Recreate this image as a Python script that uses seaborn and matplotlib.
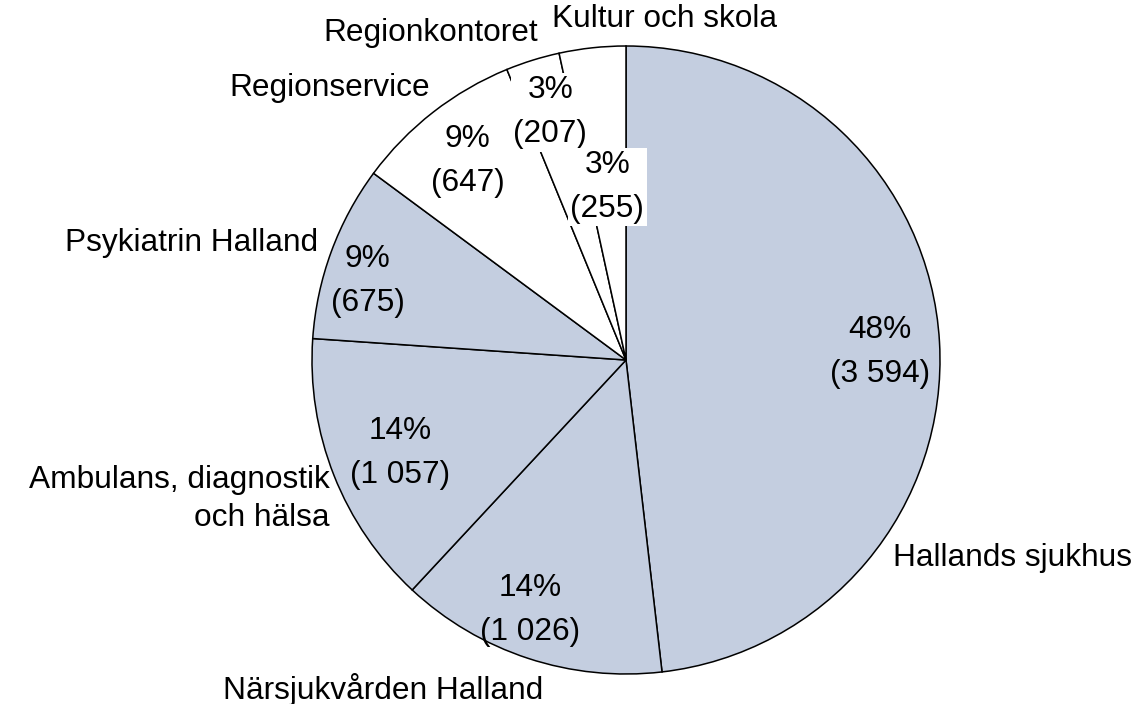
import numpy as np
import matplotlib
matplotlib.use("Agg")
import matplotlib.pyplot as plt
import seaborn as sns

# ---- data ----
categories = ["Hallands sjukhus", "Närsjukvården Halland", "Ambulans, diagnostik\noch hälsa",
              "Psykiatrin Halland", "Regionservice", "Regionkontoret", "Kultur och skola"]
values = [3594, 1026, 1057, 675, 647, 207, 255]

# ---- style ----
BLUE = "#C4CEE0"
WHITE = "#FFFFFF"
colors = [BLUE, BLUE, BLUE, BLUE, WHITE, WHITE, WHITE]
# inner label placement: radial fraction and angular offset (deg) from wedge mid-angle
lab_r = [0.81, 0.853, 0.777, 0.86, 0.81, 0.825, 0.554]
lab_off = [-1.5, -2.8, 0.8, 3.2, 0.6, -0.3, 0.0]
lab_box = [False, False, False, False, True, True, True]
# outer category label anchors (in radius units) and alignment
out_pos = [(0.85, -0.63), (-0.774, -1.05), (-0.943, -0.443), (-0.98, 0.373),
           (-0.624, 0.866), (-0.28, 1.04), (-0.236, 1.085)]
out_ha = ["left", "center", "right", "right", "right", "right", "left"]

sns.set_theme(style="white")
plt.rcParams["font.family"] = ["Liberation Sans", "DejaVu Sans"]
FS = 22.8

fig = plt.figure(figsize=(11.38, 7.04), dpi=100)
W, H = 1138, 704
cx, cy, R = 626, 360, 314
ax = fig.add_axes([(cx - R) / W, (H - cy - R) / H, 2 * R / W, 2 * R / H])

wedges, _ = ax.pie(values, colors=colors, startangle=90, counterclock=False, radius=1,
                   wedgeprops=dict(edgecolor="black", linewidth=1.1))
ax.set_xlim(-1, 1)
ax.set_ylim(-1, 1)
ax.set_aspect("equal")
ax.axis("off")

total = sum(values)
for i, (w, v) in enumerate(zip(wedges, values)):
    mid = np.deg2rad((w.theta1 + w.theta2) / 2 + lab_off[i])
    x, y = lab_r[i] * np.cos(mid), lab_r[i] * np.sin(mid)
    txt = f"{round(100 * v / total)}%\n({v:,})".replace(",", " ")
    kw = {}
    if lab_box[i]:
        kw["bbox"] = dict(facecolor="white", edgecolor="none", pad=1.5)
    ax.text(x, y, txt, ha="center", va="center", fontsize=FS, linespacing=1.62,
            color="black", zorder=5, **kw)

for i, name in enumerate(categories):
    ox, oy = out_pos[i]
    ax.text(ox, oy, name, ha=out_ha[i], va="center", fontsize=FS, linespacing=1.32,
            multialignment="right" if out_ha[i] == "right" else "center",
            color="black", clip_on=False)

fig.savefig("out.png", dpi=100, facecolor="white")
